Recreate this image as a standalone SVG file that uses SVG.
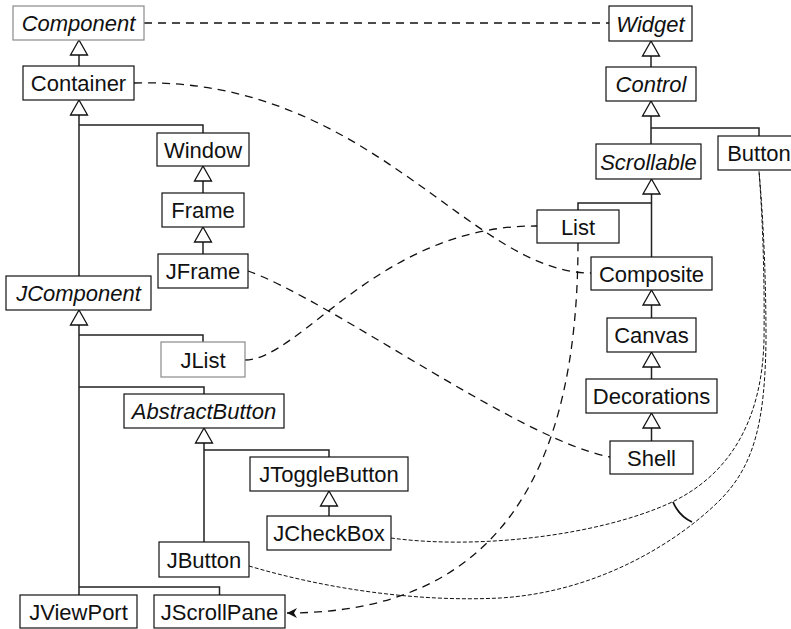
<svg xmlns="http://www.w3.org/2000/svg" width="791" height="629" viewBox="0 0 791 629">
<style>
  .box { fill: #fff; stroke: #111; stroke-width: 1.2; }
  .gbox { fill: #fff; stroke: #8a8a8a; stroke-width: 1.2; }
  .t { font-family: "Liberation Sans", Arial, sans-serif; font-size: 22px; fill: #111; text-anchor: middle; }
  .i { font-style: italic; }
  .h { fill: none; stroke: #222; stroke-width: 1.5; }
  .tri { fill: #fff; stroke: #111; stroke-width: 1.3; }
  .d { fill: none; stroke: #111; stroke-width: 1.3; stroke-dasharray: 8 6; }
  .f { fill: none; stroke: #111; stroke-width: 1; stroke-dasharray: 4 2; }
</style>
<defs>
  <marker id="ah" viewBox="0 0 10 10" refX="10" refY="5" markerWidth="10" markerHeight="10" markerUnits="userSpaceOnUse" orient="auto">
    <path d="M0,0 L10,5 L0,10 L3,5 z" fill="#111"/>
  </marker>
  <polygon id="tri" class="tri" points="0,0 -8.5,15 8.5,15"/>
</defs>

<g id="connectors">
  <!-- inheritance lines -->
  <path class="h" d="M79,55 V66"/>
  <path class="h" d="M79,115 V276 M79,125 H203 V133"/>
  <path class="h" d="M203,181 V193"/>
  <path class="h" d="M203,242 V254"/>
  <path class="h" d="M79,325 V595 M79,335 H203 V342 M79,387 H204 V394 M79,587 H219.5 V595"/>
  <path class="h" d="M204,443 V542 M204,450 H329 V457"/>
  <path class="h" d="M329,506 V516"/>
  <path class="h" d="M651,56 V67"/>
  <path class="h" d="M651,116 V144 M651,128 H759 V136"/>
  <path class="h" d="M651.5,194 V257 M651.5,203 H578 V210"/>
  <path class="h" d="M651.5,305 V318"/>
  <path class="h" d="M651.5,367 V379"/>
  <path class="h" d="M651.5,428 V441"/>
  <use href="#tri" x="79" y="40"/>
  <use href="#tri" x="79" y="100"/>
  <use href="#tri" x="203" y="166"/>
  <use href="#tri" x="203" y="227"/>
  <use href="#tri" x="79" y="310"/>
  <use href="#tri" x="204" y="428"/>
  <use href="#tri" x="329" y="491"/>
  <use href="#tri" x="651" y="41"/>
  <use href="#tri" x="651" y="101"/>
  <use href="#tri" x="651.5" y="179"/>
  <use href="#tri" x="651.5" y="290"/>
  <use href="#tri" x="651.5" y="352"/>
  <use href="#tri" x="651.5" y="413"/>
  <!-- dashed associations -->
  <path class="d" d="M144,23 H609"/>
  <path class="d" d="M134,83 C370,76 470,273 591,273"/>
  <path class="d" d="M248,271 C330,300 520,440 610,457"/>
  <path class="d" d="M245,360 C300,360 380,225 537,226"/>
  <path class="d" d="M578,243 C578,470 500,613 287,613" marker-end="url(#ah)"/>
  <path class="f" d="M391,538 C480,550 600,535 670,503 C730,475 762,420 764,340 Q765,250 759,171"/>
  <path class="f" d="M249,566 C330,590 420,602 500,598 C600,592 680,540 720,500 C755,465 765,420 766,340 Q766,250 759,171"/>
  <path d="M673,502 Q679,516 692,522" fill="none" stroke="#111" stroke-width="1.8"/>
</g>

<g id="Component"><rect class="gbox" x="13" y="6" width="131" height="34"/><text class="t i" x="78.5" y="31">Component</text></g>
<g id="Widget"><rect class="box" x="609" y="6" width="83" height="35"/><text class="t i" x="650.5" y="31.5">Widget</text></g>
<g id="Container"><rect class="box" x="23" y="66" width="111" height="34"/><text class="t" x="78.5" y="91">Container</text></g>
<g id="Control"><rect class="box" x="606" y="67" width="90" height="34"/><text class="t i" x="651" y="92">Control</text></g>
<g id="Window"><rect class="box" x="157" y="133" width="92" height="33"/><text class="t" x="203" y="157.5">Window</text></g>
<g id="Scrollable"><rect class="box" x="596" y="144" width="105" height="35"/><text class="t i" x="648.5" y="169.5">Scrollable</text></g>
<g id="Button"><rect class="box" x="718" y="136" width="82" height="34"/><text class="t" x="759" y="161">Button</text></g>
<g id="Frame"><rect class="box" x="162" y="193" width="82" height="34"/><text class="t" x="203" y="218">Frame</text></g>
<g id="List"><rect class="box" x="537" y="210" width="82" height="33"/><text class="t" x="578" y="234.5">List</text></g>
<g id="JFrame"><rect class="box" x="158" y="254" width="90" height="34"/><text class="t" x="203" y="279">JFrame</text></g>
<g id="Composite"><rect class="box" x="591" y="257" width="121" height="33"/><text class="t" x="651.5" y="281.5">Composite</text></g>
<g id="JComponent"><rect class="box" x="6" y="276" width="145" height="34"/><text class="t i" x="78.5" y="301">JComponent</text></g>
<g id="Canvas"><rect class="box" x="607" y="318" width="89" height="34"/><text class="t" x="651.5" y="343">Canvas</text></g>
<g id="JList"><rect class="gbox" x="161" y="342" width="84" height="35"/><text class="t" x="203" y="367.5">JList</text></g>
<g id="Decorations"><rect class="box" x="586" y="379" width="131" height="34"/><text class="t" x="651.5" y="404">Decorations</text></g>
<g id="AbstractButton"><rect class="box" x="124" y="394" width="160" height="34"/><text class="t i" x="204" y="419">AbstractButton</text></g>
<g id="Shell"><rect class="box" x="610" y="441" width="83" height="33"/><text class="t" x="651.5" y="465.5">Shell</text></g>
<g id="JToggleButton"><rect class="box" x="250" y="457" width="158" height="34"/><text class="t" x="329" y="482">JToggleButton</text></g>
<g id="JCheckBox"><rect class="box" x="267" y="516" width="124" height="34"/><text class="t" x="329" y="541">JCheckBox</text></g>
<g id="JButton"><rect class="box" x="159" y="542" width="90" height="35"/><text class="t" x="204" y="567.5">JButton</text></g>
<g id="JViewPort"><rect class="box" x="20" y="595" width="117" height="33"/><text class="t" x="78.5" y="619.5">JViewPort</text></g>
<g id="JScrollPane"><rect class="box" x="154" y="595" width="131" height="33"/><text class="t" x="219.5" y="619.5">JScrollPane</text></g>
</svg>
